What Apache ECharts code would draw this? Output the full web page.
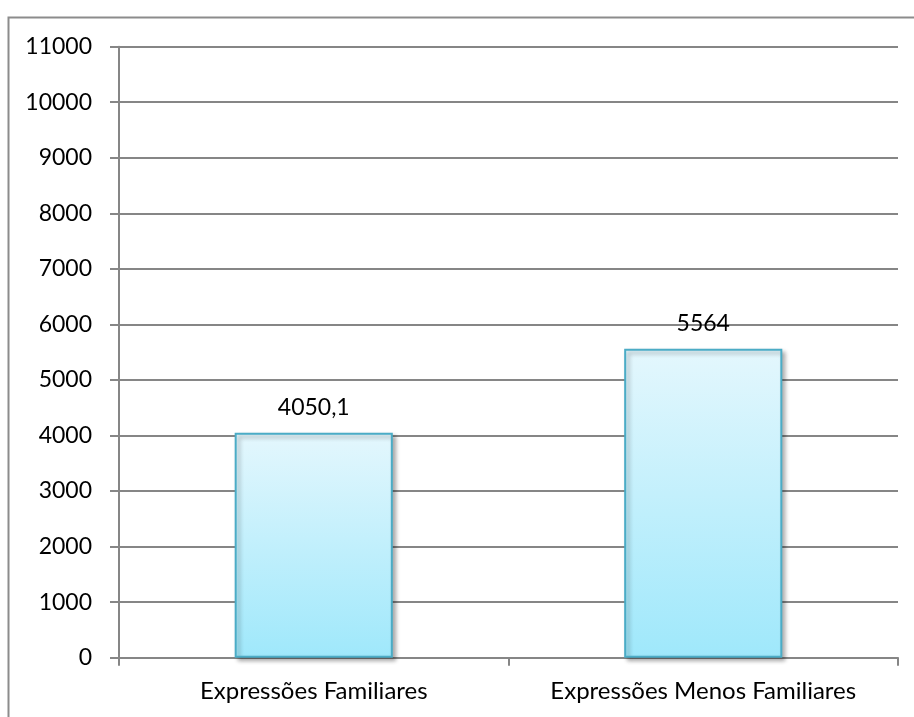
<!DOCTYPE html>
<html><head><meta charset="utf-8">
<script src="https://cdn.jsdelivr.net/npm/echarts@6/dist/echarts.min.js"></script>
<style>html,body{margin:0;padding:0;background:#fff}#c{width:914px;height:717px}</style>
</head><body><div id="c"></div>
<script>
var categories = ["Expressões Familiares", "Expressões Menos Familiares"];
var values = [4050.1, 5564];
var yMin = 0, yMax = 11000, yInterval = 1000;

var chart = echarts.init(document.getElementById('c'), null, {renderer: 'canvas'});
var FONT = 'Lato';
chart.setOption({
  animation: false,
  backgroundColor: '#fff',
  graphic: [{
    type: 'polyline', silent: true,
    shape: {points: [[8.5, 730], [8.5, 17.5], [930, 17.5]]},
    style: {stroke: '#8c8c8c', lineWidth: 2, fill: null}
  }],
  grid: {left: 119, right: 16, top: 46.7, bottom: 59.3, containLabel: false},
  xAxis: {
    type: 'category', data: categories,
    axisLine: {lineStyle: {color: '#868686', width: 2}},
    axisTick: {show: true, length: 8, lineStyle: {color: '#868686', width: 2}},
    axisLabel: {color: '#000', fontFamily: FONT, fontSize: 24, margin: 22, interval: 0, hideOverlap: false}
  },
  yAxis: {
    type: 'value', min: yMin, max: yMax, interval: yInterval,
    axisLine: {show: true, lineStyle: {color: '#868686', width: 2}},
    axisTick: {show: true, length: 9, lineStyle: {color: '#868686', width: 2}},
    splitLine: {lineStyle: {color: '#868686', width: 2}},
    axisLabel: {color: '#000', fontFamily: FONT, fontSize: 23, margin: 27,
      formatter: function (v) { return String(v); }}
  },
  series: [{
    type: 'bar', data: values, barWidth: '40.6%',
    itemStyle: {
      color: {type: 'linear', x: 0, y: 0, x2: 0, y2: 1, colorStops: [
        {offset: 0, color: '#e4f7fd'}, {offset: 1, color: '#9fe8fb'}]},
      borderColor: '#4bacc6', borderWidth: 2,
      shadowColor: 'rgba(0,0,0,0.3)', shadowBlur: 4, shadowOffsetX: 3, shadowOffsetY: 3
    },
    label: {
      show: true, position: 'top', distance: 14, color: '#000',
      fontFamily: FONT, fontSize: 23,
      formatter: function (p) { return String(p.value).replace('.', ','); }
    }
  }]
});
</script></body></html>
